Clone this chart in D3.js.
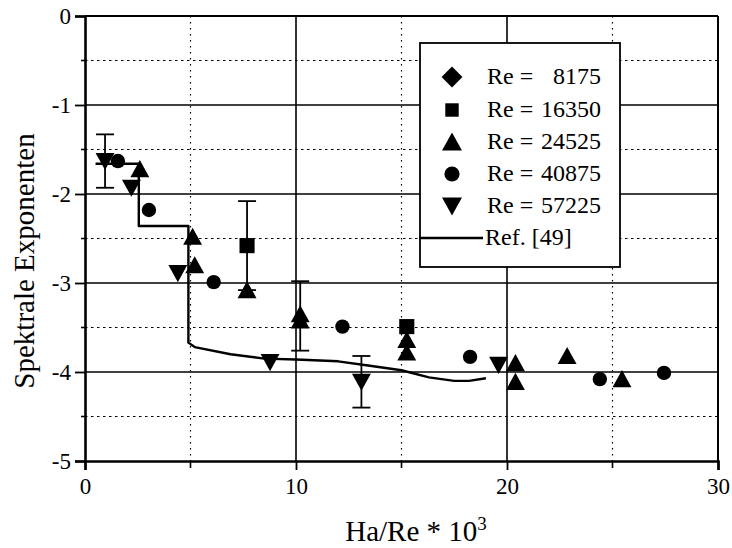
<!DOCTYPE html>
<html>
<head>
<meta charset="utf-8">
<script src="https://cdn.jsdelivr.net/npm/d3@7"></script>
<style>
  html, body { margin: 0; padding: 0; background: #fff; }
  svg { display: block; font-family: "Liberation Serif", "Times New Roman", serif; }
</style>
</head>
<body>
<svg id="chart" width="732" height="548"></svg>
<script>
// Spectral exponents vs. Ha/Re * 10^3 for several Reynolds numbers
const xTicks = [0, 10, 20, 30];
const yTicks = [0, -1, -2, -3, -4, -5];
const xMinorGrid = [5, 15, 25];
const yMinorGrid = [-0.5, -1.5, -2.5, -3.5, -4.5];

const re8175 = [];
const re16350 = [[7.68, -2.58], [15.25, -3.49]];
const re24525 = [[2.6, -1.72], [5.1, -2.48], [5.2, -2.8], [7.68, -3.08], [10.2, -3.35], [10.2, -3.42],
                 [15.25, -3.64], [15.25, -3.78], [20.4, -3.9], [20.4, -4.11], [22.85, -3.82], [25.45, -4.08]];
const re40875 = [[1.56, -1.63], [3.03, -2.18], [6.1, -2.99], [12.2, -3.49], [18.25, -3.83], [24.4, -4.08], [27.44, -4.01]];
const re57225 = [[0.95, -1.63], [2.2, -1.93], [4.4, -2.89], [8.77, -3.89], [13.1, -4.11], [19.6, -3.92]];

// error bars: x, centre, half-width
const errorBars = [[0.95, -1.63, 0.3], [7.68, -2.58, 0.5], [10.2, -3.37, 0.39], [13.1, -4.11, 0.29]];

// reference curve, Ref. [49]
const refCurve = [[0.5, -1.66], [2.55, -1.66], [2.55, -2.36], [4.9, -2.36], [4.9, -3.67], [5.2, -3.72],
                  [6.9, -3.8], [8.5, -3.85], [10, -3.86], [12, -3.88], [13.5, -3.93], [15, -3.98],
                  [16.3, -4.06], [17.5, -4.1], [18.2, -4.1], [19.0, -4.07]];

const legendLabels = ["8175", "16350", "24525", "40875", "57225"];
const legendShapes = ["diamond", "square", "up", "circle", "down"];

const svg = d3.select("#chart");
const x = d3.scaleLinear().domain([0, 30]).range([85, 718]);
const y = d3.scaleLinear().domain([-5, 0]).range([461, 16]);

// grid
const grid = svg.append("g");
grid.selectAll(".hmin").data(yMinorGrid).join("line")
  .attr("x1", x(0)).attr("x2", x(30)).attr("y1", d => y(d)).attr("y2", d => y(d))
  .attr("stroke", "#000").attr("stroke-width", 1.2).attr("stroke-dasharray", "2.5,3.5");
grid.selectAll(".vmin").data(xMinorGrid).join("line")
  .attr("y1", y(0)).attr("y2", y(-5)).attr("x1", d => x(d)).attr("x2", d => x(d))
  .attr("stroke", "#000").attr("stroke-width", 1.2).attr("stroke-dasharray", "1.5,4.5");
grid.selectAll(".hmaj").data([-1, -2, -3, -4]).join("line")
  .attr("x1", x(0)).attr("x2", x(30)).attr("y1", d => y(d)).attr("y2", d => y(d))
  .attr("stroke", "#000").attr("stroke-width", 1.6);
grid.selectAll(".vmaj").data([10, 20]).join("line")
  .attr("y1", y(0)).attr("y2", y(-5)).attr("x1", d => x(d)).attr("x2", d => x(d))
  .attr("stroke", "#000").attr("stroke-width", 1.6);

// frame top/right
svg.append("line").attr("x1", x(0)).attr("x2", x(30)).attr("y1", y(0)).attr("y2", y(0))
  .attr("stroke", "#000").attr("stroke-width", 2);
svg.append("line").attr("x1", x(30)).attr("x2", x(30)).attr("y1", y(0)).attr("y2", y(-5))
  .attr("stroke", "#000").attr("stroke-width", 2);

// axes
const yAxis = svg.append("g").attr("transform", `translate(${x(0)},0)`)
  .call(d3.axisLeft(y).tickValues(yTicks).tickFormat(d => String(d)).tickSize(10).tickPadding(4));
const xAxis = svg.append("g").attr("transform", `translate(0,${y(-5)})`)
  .call(d3.axisBottom(x).tickValues(xTicks).tickFormat(d => String(d)).tickSize(9).tickPadding(8));
[yAxis, xAxis].forEach(a => {
  a.select(".domain").attr("stroke-width", 2.6);
  a.selectAll(".tick line").attr("stroke-width", 1.8);
  a.selectAll("text").attr("font-family", "Liberation Serif").attr("font-size", 23).attr("fill", "#000");
});
// minor ticks
svg.append("g").selectAll("line").data(yMinorGrid).join("line")
  .attr("x1", x(0) - 4).attr("x2", x(0) + 2).attr("y1", d => y(d)).attr("y2", d => y(d))
  .attr("stroke", "#000").attr("stroke-width", 1.6);
svg.append("g").selectAll("line").data(xMinorGrid).join("line")
  .attr("y1", y(-5)).attr("y2", y(-5) + 7).attr("x1", d => x(d)).attr("x2", d => x(d))
  .attr("stroke", "#000").attr("stroke-width", 1.6);

// reference curve
const line = d3.line().x(d => x(d[0])).y(d => y(d[1])).curve(d3.curveLinear);
svg.append("path").datum(refCurve).attr("d", line)
  .attr("fill", "none").attr("stroke", "#000").attr("stroke-width", 2.4).attr("stroke-linejoin", "round");

// error bars
const eb = svg.append("g").attr("stroke", "#000").attr("stroke-width", 1.8);
errorBars.forEach(([xv, c, h]) => {
  eb.append("line").attr("x1", x(xv)).attr("x2", x(xv)).attr("y1", y(c + h)).attr("y2", y(c - h));
  eb.append("line").attr("x1", x(xv) - 9).attr("x2", x(xv) + 9).attr("y1", y(c + h)).attr("y2", y(c + h));
  eb.append("line").attr("x1", x(xv) - 9).attr("x2", x(xv) + 9).attr("y1", y(c - h)).attr("y2", y(c - h));
});

// marker shapes
function shapePath(kind, s) {
  const p = d3.path();
  if (kind === "diamond") {
    p.moveTo(0, -s * 0.55); p.lineTo(s * 0.55, 0); p.lineTo(0, s * 0.55); p.lineTo(-s * 0.55, 0); p.closePath();
  } else if (kind === "square") {
    const h = s * 0.42; p.rect(-h, -h, 2 * h, 2 * h);
  } else if (kind === "up") {
    const h = s * 0.5; p.moveTo(0, -h); p.lineTo(h * 1.05, h * 0.9); p.lineTo(-h * 1.05, h * 0.9); p.closePath();
  } else if (kind === "down") {
    const h = s * 0.5; p.moveTo(0, h); p.lineTo(h * 1.05, -h * 0.9); p.lineTo(-h * 1.05, -h * 0.9); p.closePath();
  } else {
    p.arc(0, 0, s * 0.4, 0, 2 * Math.PI);
  }
  return p.toString();
}

const series = [
  { data: re8175, shape: "diamond" },
  { data: re16350, shape: "square" },
  { data: re24525, shape: "up" },
  { data: re40875, shape: "circle" },
  { data: re57225, shape: "down" }
];
series.forEach(s => {
  svg.append("g").selectAll("path").data(s.data).join("path")
    .attr("transform", d => `translate(${x(d[0])},${y(d[1])})`)
    .attr("d", shapePath(s.shape, 18)).attr("fill", "#000");
});

// legend
const lg = svg.append("g");
lg.append("rect").attr("x", 420).attr("y", 43).attr("width", 200).attr("height", 224)
  .attr("fill", "#fff").attr("stroke", "#000").attr("stroke-width", 1.8);
const rowY = [77, 110, 142, 174, 206];
legendLabels.forEach((lab, i) => {
  lg.append("path").attr("transform", `translate(452,${rowY[i]})`)
    .attr("d", shapePath(legendShapes[i], i === 1 ? 16 : 19)).attr("fill", "#000");
  lg.append("text").attr("x", 487).attr("y", rowY[i] + 7).attr("font-size", 24).text("Re =");
  lg.append("text").attr("x", 601).attr("y", rowY[i] + 7).attr("font-size", 24)
    .attr("text-anchor", "end").text(lab);
});
lg.append("line").attr("x1", 419).attr("x2", 483).attr("y1", 238).attr("y2", 238)
  .attr("stroke", "#000").attr("stroke-width", 2.4);
lg.append("text").attr("x", 485).attr("y", 245).attr("font-size", 24).text("Ref. [49]");

// axis titles
const xt = svg.append("text").attr("x", 416).attr("y", 541).attr("text-anchor", "middle")
  .attr("font-size", 29);
xt.append("tspan").text("Ha/Re * 10");
xt.append("tspan").attr("font-size", 19).attr("dy", -11).text("3");
svg.append("text").attr("transform", "translate(34,261) rotate(-90)").attr("text-anchor", "middle")
  .attr("font-size", 29).text("Spektrale Exponenten");
</script>
</body>
</html>
